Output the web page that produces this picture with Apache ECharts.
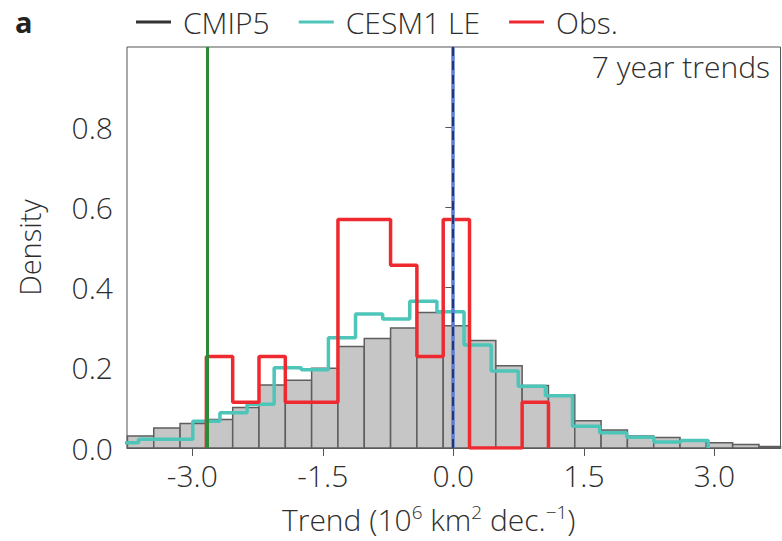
<!DOCTYPE html>
<html><head><meta charset="utf-8">
<script src="https://cdn.jsdelivr.net/npm/echarts@6/dist/echarts.min.js"></script>
<style>html,body{margin:0;padding:0;background:#fff}#c{width:782px;height:541px}</style>
</head><body><div id="c"></div>
<script>
// ---- data ----
const cmip5Start = -3.745;
const cmip5Width = 0.3024;
const cmip5Density = [0.030,0.050,0.061,0.071,0.101,0.157,0.169,0.199,0.253,0.273,0.299,0.338,0.305,0.268,0.205,0.156,0.132,0.068,0.045,0.030,0.026,0.020,0.013,0.009,0.004];
const cesmStart = -3.929;
const cesmWidth = 0.3117;
const cesmDensity = [0.013,0.022,0.022,0.067,0.088,0.109,0.200,0.195,0.275,0.334,0.322,0.366,0.340,0.257,0.192,0.154,0.130,0.054,0.038,0.027,0.015,0.019];
const obsFirstBin = 3; // obs uses the CMIP5 bin edges, starting at this bin
const obsDensity = [0.228,0.114,0.228,0.114,0.114,0.570,0.570,0.456,0.228,0.570,0,0,0.114];
const xTicks = [-3.0,-1.5,0.0,1.5,3.0];
const yTicks = [0.0,0.2,0.4,0.6,0.8];
const greenLineX = -2.83;
const blueLineX = -0.01;

const FONT = '"Open Sans","Noto Sans",sans-serif';
const TXT = '#2e2e2e';
const FS = 30;

const barData = cmip5Density.map((d,i)=>[cmip5Start+i*cmip5Width, cmip5Start+(i+1)*cmip5Width, d]);
function stepData(start, width, dens){
  const pts = [[start,0]];
  dens.forEach((d,i)=>pts.push([start+i*width, d]));
  pts.push([start+dens.length*width, 0]);
  return pts;
}
const cesmData = stepData(cesmStart, cesmWidth, cesmDensity);
const obsData = stepData(cmip5Start+obsFirstBin*cmip5Width, cmip5Width, obsDensity);

const chart = echarts.init(document.getElementById('c'), null, {renderer:'svg'});
chart.setOption({
  animation:false,
  textStyle:{fontFamily:FONT},
  grid:{left:127,right:1.5,top:47,bottom:85.5,show:true,borderColor:'#555',borderWidth:1,backgroundColor:'transparent'},
  legend:{
    left:131, top:1, itemWidth:35, itemHeight:3, itemGap:29, icon:'rect',
    textStyle:{fontSize:FS, color:TXT, fontFamily:FONT, fontWeight:300, padding:[0,0,0,7], lineHeight:32},
    data:[
      {name:'CMIP5', itemStyle:{color:'#333', borderWidth:0}},
      {name:'CESM1 LE', itemStyle:{color:'#4ec5b9'}},
      {name:'Obs.', itemStyle:{color:'#ee2a30'}}
    ]
  },
  graphic:[
    {type:'text', left:15, top:6, style:{text:'a', fontSize:29, lineHeight:30, fontWeight:'bold', fill:'#222', fontFamily:FONT}},
    {type:'text', right:12, top:51, style:{text:'7 year trends', fontSize:FS, fill:TXT, fontFamily:FONT, fontWeight:300}}
  ],
  xAxis:{
    type:'value', min:-3.75, max:3.76,
    axisLine:{show:true, lineStyle:{color:'#555', width:1}},
    axisTick:{show:true, length:8, customValues:xTicks, lineStyle:{color:'#555'}},
    axisLabel:{customValues:xTicks, formatter:v=>v.toFixed(1), fontSize:FS, color:TXT, margin:12, fontWeight:300},
    splitLine:{show:false},
    name:'Trend (10{s|6} km{s|2} dec.{s|−1})', nameLocation:'middle', nameGap:54,
    nameTextStyle:{fontSize:FS, color:TXT, fontWeight:300, lineHeight:34, padding:[0,50,0,0],
      rich:{s:{fontSize:19, verticalAlign:'top', lineHeight:20, color:TXT, fontWeight:300}}}
  },
  yAxis:{
    type:'value', min:0, max:1, interval:0.2,
    axisLine:{show:true, lineStyle:{color:'#555', width:1}},
    axisTick:{show:true, length:8, customValues:yTicks, lineStyle:{color:'#555'}},
    axisLabel:{customValues:yTicks, formatter:v=>v.toFixed(1), fontSize:FS, color:TXT, margin:14, fontWeight:300},
    splitLine:{show:false},
    name:'Density', nameLocation:'middle', nameGap:83,
    nameTextStyle:{fontSize:29, color:TXT, fontWeight:300}
  },
  series:[
    {
      name:'CMIP5', type:'custom', data:barData, encode:{x:[0,1], y:2}, z:1,
      itemStyle:{color:'#c6c6c6'},
      renderItem:function(params, api){
        const p0 = api.coord([api.value(0), api.value(2)]);
        const p1 = api.coord([api.value(1), 0]);
        const cs = params.coordSys;
        const r = echarts.graphic.clipRectByRect(
          {x:p0[0], y:p0[1], width:p1[0]-p0[0], height:p1[1]-p0[1]},
          {x:cs.x, y:cs.y, width:cs.width, height:cs.height});
        return r && {type:'rect', shape:r, style:{fill:'#c6c6c6', stroke:'#5e5e5e', lineWidth:1.5}};
      }
    },
    {
      name:'CESM1 LE', type:'line', step:'end', data:cesmData, showSymbol:false, z:3,
      color:'#4ec5b9', lineStyle:{color:'#4ec5b9', width:3.5}
    },
    {
      name:'Obs.', type:'line', step:'end', data:obsData, showSymbol:false, z:4,
      color:'#ee2a30', lineStyle:{color:'#ee2a30', width:3.5},
      markLine:{
        silent:true, symbol:['none','none'], label:{show:false}, animation:false,
        data:[
          {xAxis:greenLineX, lineStyle:{color:'#2a8a36', width:3, type:'solid'}},
          {xAxis:blueLineX, lineStyle:{color:'#5b7bd6', width:3.5, type:'solid'}},
          {xAxis:blueLineX, lineStyle:{color:'#1c2656', width:1.6, type:[9,5]}}
        ]
      }
    }
  ]
});
</script>
</body></html>
